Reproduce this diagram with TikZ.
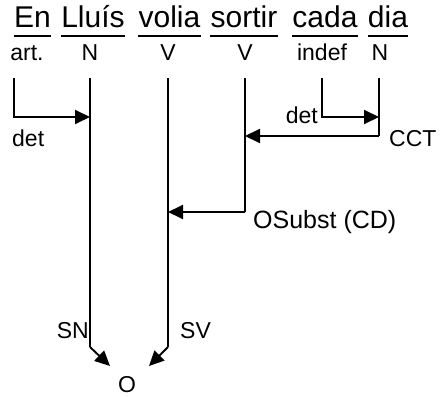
\documentclass[tikz,border=0pt]{standalone}
\usepackage{fontspec}
\setmainfont{Liberation Sans}
\usetikzlibrary{arrows.meta}
\begin{document}
\begin{tikzpicture}[x=1pt,y=-1pt,
  word/.style={anchor=base,inner sep=0pt,font=\fontsize{30}{36}\selectfont},
  lab/.style={inner sep=0pt,font=\fontsize{23}{27}\selectfont},
  ln/.style={line width=1.9pt},
  arr/.style={line width=1.9pt,-{Triangle[length=15pt,width=14pt]}},
  ul/.style={line width=2.4pt}]
\useasboundingbox (0,0) rectangle (441,396);
% sentence words
\node[word] (w1) at (32.5,28) {En};
\node[word] (w2) at (93,28) {Lluís};
\node[word] (w3) at (169.5,28) {volia};
\node[word] (w4) at (244,28) {sortir};
\node[word] (w5) at (325,28) {cada};
\node[word] (w6) at (388,28) {dia};
\foreach \w in {w1,w2,w3,w4,w5,w6}{
  \draw[ul] ([yshift=-8pt]\w.base west) -- ([yshift=-8pt]\w.base east);
}
% category labels
\node[lab,anchor=base] (c1) at (27,60) {art.};
\node[lab,anchor=base] (c2) at (90,60) {N};
\node[lab,anchor=base] (c3) at (168,60) {V};
\node[lab,anchor=base] (c4) at (245,60) {V};
\node[lab,anchor=base] (c5) at (322,60) {indef};
\node[lab,anchor=base] (c6) at (380,60) {N};
% line anchors
\coordinate (artT) at (14,78);
\coordinate (n1T) at (90,78);
\coordinate (n1B) at (90,347);
\coordinate (v1T) at (168,78);
\coordinate (v1B) at (168,347);
\coordinate (v2T) at (245,78);
\coordinate (inT) at (322,78);
\coordinate (n2T) at (379,78);
\coordinate (snTip) at (110,366);
\coordinate (svTip) at (149,366);
% connectors
\draw[ln] (n1T) -- (n1B);
\draw[ln] (v1T) -- (v1B);
\draw[ln] (n2T) -- (n2T |- 0,136);
\draw[ln] (v2T) -- (v2T |- 0,212);
\draw[arr] (artT) |- (n1T |- 0,117);
\draw[arr] (inT) |- (n2T |- 0,117);
\draw[arr] (n2T |- 0,136) -- (v2T |- 0,136);
\draw[arr] (v2T |- 0,212) -- (v1T |- 0,212);
\draw[arr] (n1B) -- (snTip);
\draw[arr] (v1B) -- (svTip);
% function labels
\node[lab,anchor=base west] (d1) at (12,146) {det};
\node[lab,anchor=base east] (d2) at (318,123) {det};
\node[lab,anchor=base west] (cct) at (389,146) {CCT};
\node[lab,anchor=base west,font=\fontsize{25}{29}\selectfont] (os) at (253,228) {OSubst (CD)};
\node[lab,anchor=base east] (sn) at (89,338) {SN};
\node[lab,anchor=base west] (sv) at (180,338) {SV};
\node[lab,anchor=base] (o) at (127,392) {O};
\end{tikzpicture}
\end{document}
